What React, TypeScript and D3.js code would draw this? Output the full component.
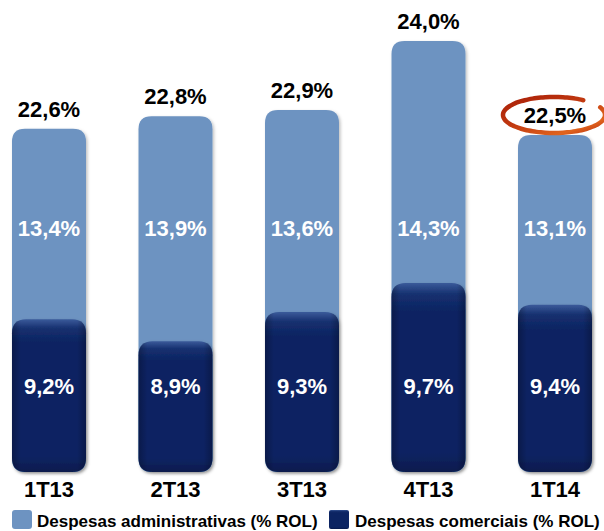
import React from "react";
import * as d3 from "d3";

const categories = ["1T13", "2T13", "3T13", "4T13", "1T14"];
const comerciais = [9.2, 8.9, 9.3, 9.7, 9.4];
const administrativas = [13.4, 13.9, 13.6, 14.3, 13.1];
const totais = [22.6, 22.8, 22.9, 24.0, 22.5];
const legendLabels = ["Despesas administrativas (% ROL)", "Despesas comerciais (% ROL)"];
const highlighted = "1T14";

const fmt = (v: number) => v.toFixed(1).replace(".", ",") + "%";

const W = 604;
const H = 531;
const BASE = 472;
const BAR_W = 74;
const LIGHT = "#6d93c1";
const DARK = "#0c2462";
const FONT = "'Liberation Sans', Arial, sans-serif";

function roundedPath(x: number, y: number, w: number, h: number, r: number) {
  const p = d3.path();
  p.moveTo(x + r, y);
  p.lineTo(x + w - r, y);
  p.quadraticCurveTo(x + w, y, x + w, y + r);
  p.lineTo(x + w, y + h - r);
  p.quadraticCurveTo(x + w, y + h, x + w - r, y + h);
  p.lineTo(x + r, y + h);
  p.quadraticCurveTo(x, y + h, x, y + h - r);
  p.lineTo(x, y + r);
  p.quadraticCurveTo(x, y, x + r, y);
  p.closePath();
  return p.toString();
}

export default function App() {
  const x = d3.scalePoint<string>().domain(categories).range([49, 555]);
  const yDark = d3.scaleLinear().domain([7.1, 9.7]).range([BASE, 283]);
  const yTotal = d3.scaleLinear().domain([17.12, 24.0]).range([BASE, 41]);

  const hi = categories.indexOf(highlighted);
  const hx = x(highlighted)!;
  const hy = yTotal(totais[hi]) - 12 - 8;

  // swoosh ellipse as a d3 path of points
  const rx = 51, ry = 18;
  const pts: [number, number][] = d3.range(0, 331, 5).map((deg) => {
    const a = ((deg - 25) * Math.PI) / 180;
    return [hx - 1 + rx * Math.cos(a), hy + ry * Math.sin(a)];
  });
  const swooshLine = d3.line().curve(d3.curveCardinal)(pts) || "";

  return (
    <svg width={W} height={H} style={{ position: "absolute", left: 0, top: 0 }} fontFamily={FONT}>
      <defs>
        <filter id="shadow" x="-10%" y="-10%" width="130%" height="130%">
          <feDropShadow dx="1.5" dy="1.5" stdDeviation="1.5" floodColor="#000" floodOpacity="0.25" />
        </filter>
        <linearGradient id="darkV" x1="0" y1="0" x2="0" y2="1">
          <stop offset="0" stopColor="#3a5a9a" />
          <stop offset="0.06" stopColor="#16306f" />
          <stop offset="0.15" stopColor={DARK} />
          <stop offset="0.9" stopColor={DARK} />
          <stop offset="1" stopColor="#071a4d" />
        </linearGradient>
        <linearGradient id="darkH" x1="0" y1="0" x2="1" y2="0">
          <stop offset="0" stopColor="#000" stopOpacity="0.25" />
          <stop offset="0.12" stopColor="#000" stopOpacity="0" />
          <stop offset="0.88" stopColor="#000" stopOpacity="0" />
          <stop offset="1" stopColor="#000" stopOpacity="0.25" />
        </linearGradient>
        <linearGradient id="swoosh" x1="0" y1="0" x2="1" y2="1">
          <stop offset="0" stopColor="#a81e08" />
          <stop offset="0.45" stopColor="#c23a10" />
          <stop offset="0.8" stopColor="#e0641e" />
          <stop offset="1" stopColor="#b72a0c" />
        </linearGradient>
      </defs>

      {categories.map((c, i) => {
        const cx = x(c)!;
        const x0 = cx - BAR_W / 2;
        const tTop = yTotal(totais[i]);
        const dTop = yDark(comerciais[i]);
        return (
          <g key={c}>
            <path d={roundedPath(x0, tTop, BAR_W, BASE - tTop, 13)} fill={LIGHT} filter="url(#shadow)" />
            <g filter="url(#shadow)">
              <path d={roundedPath(x0, dTop, BAR_W, BASE - dTop, 14)} fill="url(#darkV)" />
            </g>
            <path d={roundedPath(x0, dTop, BAR_W, BASE - dTop, 14)} fill="url(#darkH)" />
            <text x={cx} y={tTop - 12} textAnchor="middle" fontSize={22} fontWeight="bold" fill="#000">
              {fmt(totais[i])}
            </text>
            <text x={cx} y={236} textAnchor="middle" fontSize={22} fontWeight="bold" fill="#fff">
              {fmt(administrativas[i])}
            </text>
            <text x={cx} y={394} textAnchor="middle" fontSize={22} fontWeight="bold" fill="#fff">
              {fmt(comerciais[i])}
            </text>
            <text x={cx} y={497} textAnchor="middle" fontSize={22} fontWeight="bold" fill="#000">
              {c}
            </text>
          </g>
        );
      })}

      <path d={swooshLine} fill="none" stroke="url(#swoosh)" strokeWidth={4.5} strokeLinecap="round" />

      <g>
        <rect x={12} y={510} width={20} height={19} rx={3} fill={LIGHT} />
        <text x={37} y={527} fontSize={17} fontWeight="bold" fill="#000">{legendLabels[0]}</text>
        <rect x={329} y={510} width={20} height={19} rx={2} fill="url(#darkV)" />
        <text x={355} y={527} fontSize={17} fontWeight="bold" fill="#000">{legendLabels[1]}</text>
      </g>
    </svg>
  );
}
